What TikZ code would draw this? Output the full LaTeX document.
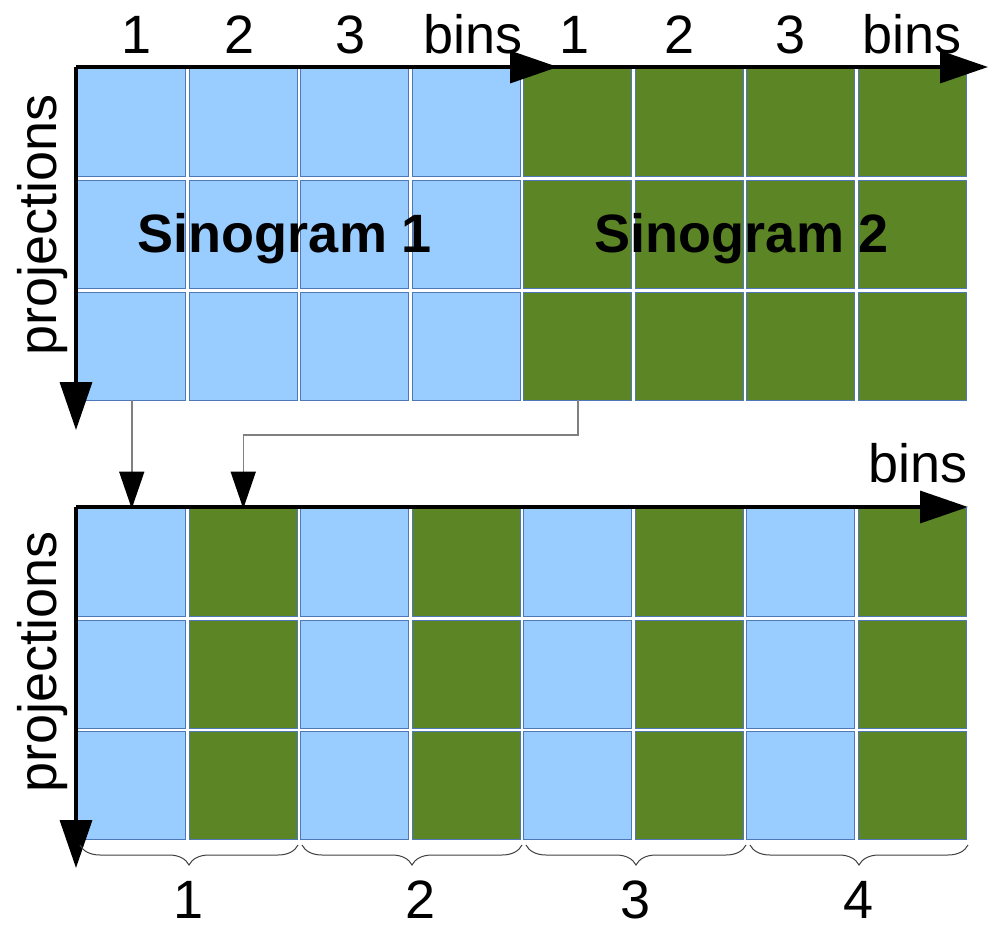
\documentclass[tikz,border=0pt]{standalone}
\usepackage{fontspec}
\setmainfont{Liberation Sans}
\usetikzlibrary{arrows.meta,decorations.pathreplacing}
\definecolor{skyblue}{RGB}{153,204,255}
\definecolor{sinogreen}{RGB}{92,133,38}
\definecolor{cellline}{RGB}{79,120,185}
\begin{document}
\begin{tikzpicture}[x=1pt,y=-1pt,font=\fontsize{54}{60}\selectfont]
% Two 3x4 sinograms on top, interleaved 3x8 sinogram below.
% Units are points; y runs downwards.
\useasboundingbox (0,0) rectangle (989,930);
\tikzset{
  cell/.style={draw=cellline,line width=1pt,minimum width=108pt,minimum height=108pt,inner sep=0pt,outer sep=0pt},
  axis/.style={line width=3.5pt,-{Triangle[length=48pt,width=32pt]}},
  feed/.style={gray,line width=1.5pt,-{Triangle[length=37pt,width=25pt,color=black]}},
  lab/.style={inner sep=0pt,anchor=base},
  brc/.style={decorate,decoration={brace,amplitude=20pt},line width=1pt,black!75}
}

% Top cells: sinogram 1 in columns 1-4, sinogram 2 in columns 5-8.
\foreach \r in {1,2,3}{
  \foreach \c in {1,...,8}{
    \ifnum\c<5 \def\col{skyblue}\else\def\col{sinogreen}\fi
    \node[cell,fill=\col] (s-\r-\c) at ({76+(\c-0.5)*111.5},{67+(\r-0.5)*111.67}) {};
  }
}
% Bottom cells: columns alternate between the two sinograms.
\foreach \r in {1,2,3}{
  \foreach \c in {1,...,8}{
    \ifodd\c \def\col{skyblue}\else\def\col{sinogreen}\fi
    \node[cell,fill=\col] (m-\r-\c) at ({76+(\c-0.5)*111.5},{507+(\r-0.5)*111.33}) {};
  }
}

% Axes.
\coordinate (o1) at (76,67);
\coordinate (o2) at (521,67);
\coordinate (o3) at (76,507);
\draw[axis] (o2) -- (988,67);
\draw[axis] (o1) -- (558,67);
\draw[axis] (o1) -- (76,430);
\draw[axis] (o3) -- (968,507);
\draw[axis] (o3) -- (76,868);

% Bin numbers and axis names.
\foreach \x/\lab in {137/1,240/2,351/3,473/bins,575/1,680/2,791/3,912/bins}{
  \node[lab] (t\x) at (\x,53) {\lab};
}
\node[lab] (bbins) at (918,482) {bins};
\node[rotate=90,inner sep=0pt] (p1) at (43,225) {projections};
\node[rotate=90,inner sep=0pt] (p2) at (43,662) {projections};
\node[lab,font=\fontsize{54}{60}\selectfont\bfseries] (sino1) at (285,252) {Sinogram 1};
\node[lab,font=\fontsize{54}{60}\selectfont\bfseries] (sino2) at (742,252) {Sinogram 2};

% Columns taken from each sinogram.
\draw[feed] (s-3-1.south) -- (m-1-1.north);
\draw[feed] (s-3-5.south) -- ++(0,35) -| (m-1-2.north);

% Groups of bins.
\foreach \a/\b/\n/\x in {80/298/1/189,302/522/2/421,526/746/3/636,750/968/4/859}{
  \draw[brc] (\b,845) -- (\a,845);
  \node[lab] (g\n) at (\x,918) {\n};
}
\end{tikzpicture}
\end{document}
